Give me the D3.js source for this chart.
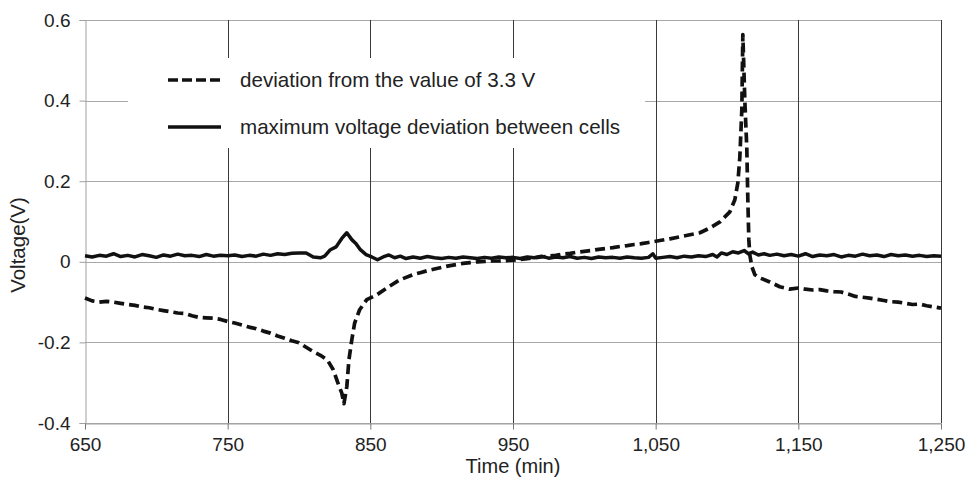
<!DOCTYPE html>
<html>
<head>
<meta charset="utf-8">
<script src="https://cdn.jsdelivr.net/npm/d3@7"></script>
<style>
  html, body { margin: 0; padding: 0; background: #fff; }
  svg { display: block; font-family: "Liberation Sans", Arial, sans-serif; }
</style>
</head>
<body>
<svg id="chart" width="965" height="477"></svg>
<script>
// ---- data ----
const xTicks = [650, 750, 850, 950, 1050, 1150, 1250];
const xTickLabels = ["650", "750", "850", "950", "1,050", "1,150", "1,250"];
const yTicks = [-0.4, -0.2, 0, 0.2, 0.4, 0.6];
const yTickLabels = ["-0.4", "-0.2", "0", "0.2", "0.4", "0.6"];
const seriesNames = ["deviation from the value of 3.3 V", "maximum voltage deviation between cells"];

const dashTime = [650,655,660,665,670,675,680,685,690,695,700,705,710,715,720,725,730,735,740,745,750,755,760,765,770,775,780,785,790,795,800,805,810,815,820,824,827,830,831.5,833.5,835,837,839,842.5,847.5,854.5,861.5,870.5,880,885,890,895,900,905,910,915,920,925,930,935,940,945,950,955,960,965,970,975,980,985,990,995,1000,1005,1010,1015,1020,1025,1030,1035,1040,1045,1050,1055,1060,1067,1074,1081,1088,1095,1102,1105.5,1107.6,1109,1110.4,1111.1,1112.5,1113.9,1114.6,1115.3,1116,1117.4,1119.5,1123,1130,1137,1144,1150,1155,1160,1165,1170,1175,1180,1185,1190,1195,1200,1205,1210,1215,1220,1225,1230,1235,1240,1245,1250];
const dashValue = [-0.09,-0.097,-0.1,-0.098,-0.1,-0.103,-0.106,-0.108,-0.112,-0.114,-0.118,-0.121,-0.124,-0.127,-0.128,-0.134,-0.138,-0.139,-0.14,-0.143,-0.148,-0.152,-0.157,-0.162,-0.166,-0.172,-0.177,-0.184,-0.19,-0.196,-0.201,-0.212,-0.223,-0.232,-0.244,-0.268,-0.298,-0.326,-0.352,-0.31,-0.243,-0.194,-0.152,-0.119,-0.094,-0.082,-0.065,-0.045,-0.032,-0.027,-0.022,-0.018,-0.014,-0.01,-0.007,-0.004,-0.002,0.0,0.001,0.002,0.002,0.003,0.004,0.006,0.008,0.01,0.012,0.014,0.016,0.019,0.021,0.024,0.026,0.028,0.031,0.033,0.035,0.038,0.04,0.043,0.045,0.048,0.051,0.054,0.057,0.062,0.067,0.072,0.084,0.099,0.124,0.154,0.196,0.26,0.378,0.564,0.40,0.28,0.154,0.055,0.017,-0.012,-0.032,-0.04,-0.05,-0.062,-0.068,-0.065,-0.068,-0.07,-0.069,-0.072,-0.074,-0.075,-0.08,-0.086,-0.088,-0.09,-0.093,-0.096,-0.099,-0.1,-0.103,-0.106,-0.105,-0.109,-0.112,-0.115];

const solidTime = [650,655,660,665,670,675,680,685,690,695,700,705,710,715,720,725,730,735,740,745,750,755,760,765,770,775,780,785,790,795,800,805,810,815,818,822,826,830,833.5,837,840,843,847,851,855,859,863,867,871,875,880,885,890,895,900,905,910,915,920,925,930,935,940,945,950,955,960,965,970,975,980,985,990,995,1000,1005,1010,1015,1020,1025,1030,1035,1040,1045,1048,1050,1055,1060,1065,1070,1075,1080,1085,1090,1093,1096,1100,1104,1108,1112,1115,1118,1122,1126,1130,1135,1140,1145,1150,1155,1160,1165,1170,1175,1180,1185,1190,1195,1200,1205,1210,1215,1220,1225,1230,1235,1240,1245,1250];
const solidValue = [0.015,0.012,0.016,0.014,0.02,0.013,0.016,0.012,0.018,0.015,0.011,0.017,0.014,0.019,0.015,0.016,0.013,0.018,0.014,0.016,0.015,0.017,0.013,0.016,0.014,0.019,0.016,0.02,0.018,0.021,0.022,0.022,0.012,0.01,0.014,0.03,0.037,0.058,0.072,0.055,0.045,0.03,0.018,0.012,0.005,0.012,0.017,0.01,0.014,0.008,0.012,0.009,0.013,0.01,0.008,0.011,0.009,0.012,0.01,0.008,0.011,0.009,0.012,0.01,0.011,0.008,0.012,0.01,0.014,0.009,0.012,0.01,0.013,0.009,0.011,0.008,0.012,0.01,0.011,0.009,0.012,0.01,0.009,0.011,0.02,0.009,0.011,0.013,0.01,0.014,0.012,0.015,0.013,0.018,0.012,0.022,0.018,0.025,0.022,0.028,0.02,0.024,0.017,0.02,0.016,0.019,0.015,0.018,0.014,0.02,0.013,0.017,0.015,0.018,0.012,0.016,0.014,0.019,0.015,0.017,0.013,0.018,0.015,0.017,0.014,0.016,0.013,0.015,0.014];

// ---- layout ----
const svg = d3.select("#chart");
const L = 85, R = 941, T = 20, B = 423;
const x = d3.scaleLinear().domain([650, 1250]).range([L, R]);
const y = d3.scaleLinear().domain([-0.4, 0.6]).range([B, T]);

// horizontal grid
svg.append("g").selectAll("line").data(yTicks).join("line")
  .attr("x1", L).attr("x2", R)
  .attr("y1", d => Math.round(y(d)) + 0.5).attr("y2", d => Math.round(y(d)) + 0.5)
  .attr("stroke", "#a8a8a8").attr("stroke-width", 1);

// vertical grid (not the first)
svg.append("g").selectAll("line").data(xTicks.slice(1)).join("line")
  .attr("x1", d => Math.round(x(d)) + 0.5).attr("x2", d => Math.round(x(d)) + 0.5)
  .attr("y1", T).attr("y2", B)
  .attr("stroke", "#3a3a3a").attr("stroke-width", 1);

// y axis
const yAxis = d3.axisLeft(y).tickValues(yTicks).tickFormat((d, i) => yTickLabels[i]).tickSize(6).tickPadding(9);
const gy = svg.append("g").attr("transform", `translate(${L + 0.5},0)`).call(yAxis);
gy.select(".domain").attr("stroke", "#a0a0a0");
gy.selectAll(".tick line").attr("stroke", "#a0a0a0");
gy.selectAll(".tick text").attr("font-size", 19).attr("fill", "#222").attr("font-family", "Liberation Sans, Arial, sans-serif");

// x axis
const xAxis = d3.axisBottom(x).tickValues(xTicks).tickFormat((d, i) => xTickLabels[i]).tickSize(6).tickPadding(8).tickSizeOuter(0);
const gx = svg.append("g").attr("transform", `translate(0,${B + 0.5})`).call(xAxis);
gx.select(".domain").attr("stroke", "#a0a0a0");
gx.selectAll(".tick line").attr("stroke", "#777");
gx.selectAll(".tick text").attr("font-size", 19).attr("fill", "#222").attr("font-family", "Liberation Sans, Arial, sans-serif");

// axis titles
svg.append("text").attr("x", 513).attr("y", 473).attr("text-anchor", "middle")
  .attr("font-size", 20).attr("fill", "#222").text("Time (min)");
svg.append("text").attr("transform", "translate(25,245) rotate(-90)").attr("text-anchor", "middle")
  .attr("font-size", 20.5).attr("fill", "#222").text("Voltage(V)");

// legend box (white, covers grid)
const legend = svg.append("g");
legend.append("rect").attr("x", 128).attr("y", 58).attr("width", 517).attr("height", 90).attr("fill", "#fff");

// series lines
const dashData = dashTime.map((t, i) => [t, dashValue[i]]);
const solidData = solidTime.map((t, i) => [t, solidValue[i]]);
const line = d3.line().x(d => x(d[0])).y(d => y(d[1])).curve(d3.curveLinear);

svg.append("path").datum(solidData).attr("d", line)
  .attr("fill", "none").attr("stroke", "#111").attr("stroke-width", 3.5).attr("stroke-linejoin", "round");
svg.append("path").datum(dashData).attr("d", line)
  .attr("fill", "none").attr("stroke", "#111").attr("stroke-width", 3.7)
  .attr("stroke-dasharray", "10,5").attr("stroke-linejoin", "round");

// legend entries
const legY = [80, 127];
legend.append("line").attr("x1", 168).attr("x2", 221).attr("y1", legY[0]).attr("y2", legY[0])
  .attr("stroke", "#111").attr("stroke-width", 3.6).attr("stroke-dasharray", "10,4");
legend.append("line").attr("x1", 168).attr("x2", 221).attr("y1", legY[1]).attr("y2", legY[1])
  .attr("stroke", "#111").attr("stroke-width", 3.6);
legend.selectAll("text.leg").data(seriesNames).join("text").attr("class", "leg")
  .attr("x", 240).attr("y", (d, i) => legY[i] + 7)
  .attr("font-size", 20.6).attr("fill", "#222").text(d => d);
</script>
</body>
</html>
